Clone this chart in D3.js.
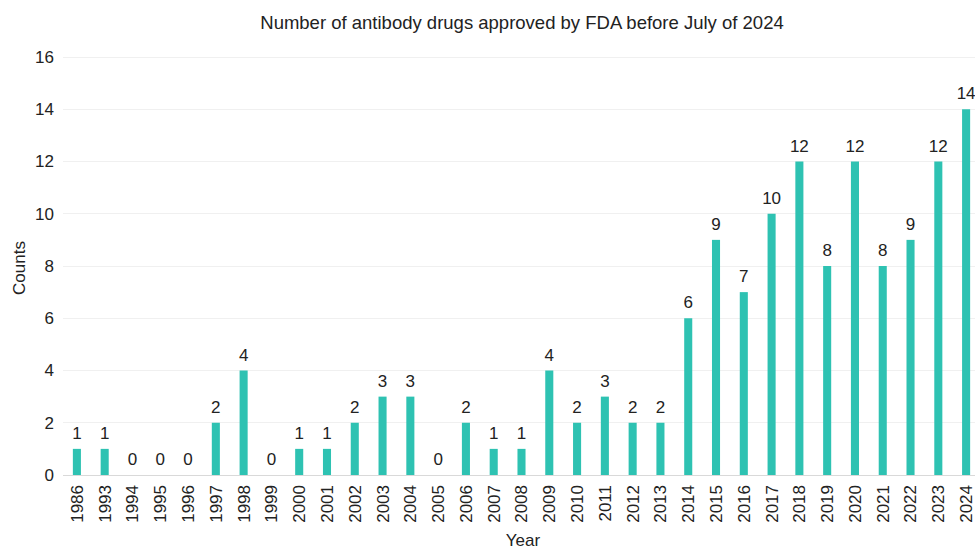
<!DOCTYPE html>
<html>
<head>
<meta charset="utf-8">
<script src="https://cdn.jsdelivr.net/npm/d3@7"></script>
<style>
  body { margin: 0; background: #fff; }
  svg { font-family: "Liberation Sans", Arial, sans-serif; }
</style>
</head>
<body>
<div id="chart"></div>
<script>
const years = ["1986","1993","1994","1995","1996","1997","1998","1999","2000","2001","2002","2003","2004","2005","2006","2007","2008","2009","2010","2011","2012","2013","2014","2015","2016","2017","2018","2019","2020","2021","2022","2023","2024"];
const counts = [1,1,0,0,0,2,4,0,1,1,2,3,3,0,2,1,1,4,2,3,2,2,6,9,7,10,12,8,12,8,9,12,14];
const yTicks = [0,2,4,6,8,10,12,14,16];

const WIDTH = 975, HEIGHT = 551;
const data = years.map((y, i) => ({ year: y, count: counts[i] }));

const svg = d3.select("#chart").append("svg")
    .attr("width", WIDTH)
    .attr("height", HEIGHT);

const x = d3.scaleBand()
    .domain(years)
    .range([63, 980])
    .paddingInner(0.71)
    .paddingOuter(0.355);

const y = d3.scaleLinear()
    .domain([0, 16])
    .range([475, 57]);

// grid lines
svg.append("g")
    .selectAll("line")
    .data(yTicks)
    .enter().append("line")
    .attr("x1", 63)
    .attr("x2", WIDTH)
    .attr("y1", d => y(d))
    .attr("y2", d => y(d))
    .attr("stroke", d => d === 0 ? "#d9d9d9" : "#f0f0f0")
    .attr("stroke-width", 1)
    .style("shape-rendering", "crispEdges");

// y axis labels
const yAxis = d3.axisLeft(y).tickValues(yTicks).tickSize(0).tickPadding(0);
const gy = svg.append("g")
    .attr("transform", "translate(54,0)")
    .call(yAxis);
gy.select(".domain").remove();
gy.selectAll("text")
    .style("font-size", "17px")
    .attr("fill", "#222");

// x axis labels
const xAxis = d3.axisBottom(x).tickSize(0).tickPadding(0);
const gx = svg.append("g")
    .attr("transform", "translate(0,485)")
    .call(xAxis);
gx.select(".domain").remove();
gx.selectAll("text")
    .attr("transform", "rotate(-90)")
    .attr("text-anchor", "end")
    .attr("x", 0)
    .attr("y", 0)
    .attr("dy", "0.35em")
    .style("font-size", "17px")
    .attr("fill", "#222");

// bars
svg.selectAll(".bar")
    .data(data)
    .enter().append("rect")
    .attr("class", "bar")
    .attr("x", d => x(d.year))
    .attr("width", x.bandwidth())
    .attr("y", d => y(d.count))
    .attr("height", d => y(0) - y(d.count))
    .attr("fill", "#2ec2b2");

// value labels
svg.selectAll(".val")
    .data(data)
    .enter().append("text")
    .attr("class", "val")
    .attr("x", d => x(d.year) + x.bandwidth() / 2)
    .attr("y", d => y(d.count) - 10)
    .attr("text-anchor", "middle")
    .style("font-size", "17px")
    .attr("fill", "#222")
    .text(d => d.count);

// title
svg.append("text")
    .attr("x", 522)
    .attr("y", 29)
    .attr("text-anchor", "middle")
    .style("font-size", "18.5px")
    .attr("fill", "#222")
    .text("Number of antibody drugs approved by FDA before July of 2024");

// axis titles
svg.append("text")
    .attr("x", 523)
    .attr("y", 546)
    .attr("text-anchor", "middle")
    .style("font-size", "17px")
    .attr("fill", "#222")
    .text("Year");

svg.append("text")
    .attr("transform", "translate(25,268) rotate(-90)")
    .attr("text-anchor", "middle")
    .style("font-size", "17px")
    .attr("fill", "#222")
    .text("Counts");
</script>
</body>
</html>
